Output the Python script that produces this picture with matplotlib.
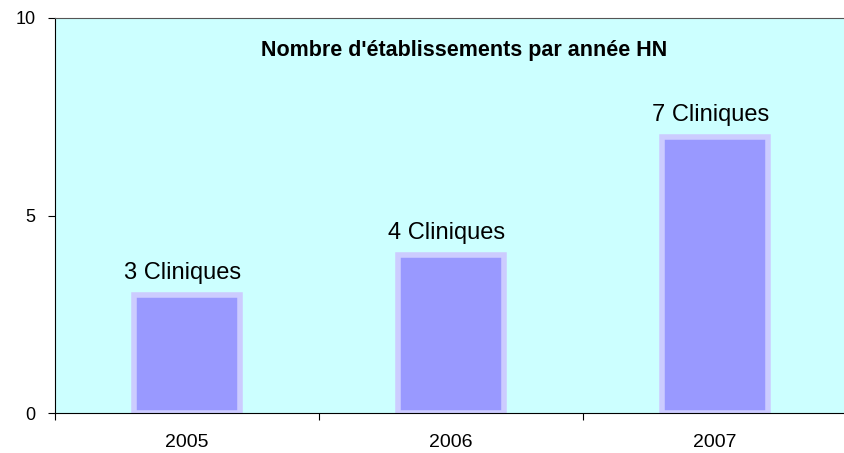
import matplotlib.pyplot as plt

plt.rcParams['font.family'] = ['Liberation Sans', 'DejaVu Sans']

annees = ["2005", "2006", "2007"]
nb_cliniques = [3, 4, 7]
etiquettes = ["3 Cliniques", "4 Cliniques", "7 Cliniques"]
titre = "Nombre d'établissements par année HN"

fig = plt.figure(figsize=(8.45, 4.53), dpi=100)
ax = fig.add_axes([55 / 845, 40 / 453, 792 / 845, 395 / 453])
ax.set_facecolor("#CCFFFF")

x = range(len(annees))
ax.bar(x, nb_cliniques, width=0.40, color="#9999FF",
       edgecolor="#CCCCFF", linewidth=4, zorder=2)

# etiquettes au-dessus des barres
for xi, v, lab in zip(x, nb_cliniques, etiquettes):
    ax.text(xi - 0.015, v + 0.4, lab, ha="center", va="baseline", fontsize=17)

ax.text(0.517, 0.904, titre, transform=ax.transAxes, ha="center", va="baseline",
        fontsize=15.5, fontweight="bold")

ax.set_xlim(-0.5, 2.5)
ax.set_ylim(0, 10)
ax.set_yticks([0, 5, 10])
ax.set_xticks([-0.5, 0.5, 1.5, 2.5])
ax.set_xticklabels([])
ax.set_xticks(list(x), minor=True)
ax.set_xticklabels(annees, minor=True)
ax.tick_params(axis="x", which="minor", length=0, pad=15, labelsize=14)
ax.tick_params(axis="x", which="major", length=5, direction="out")
ax.tick_params(axis="y", length=5, direction="out", labelsize=13, pad=9)

ax.spines["right"].set_visible(False)
ax.spines["top"].set_color("#555555")
ax.spines["top"].set_linewidth(0.8)

fig.savefig("out.png", dpi=100)
